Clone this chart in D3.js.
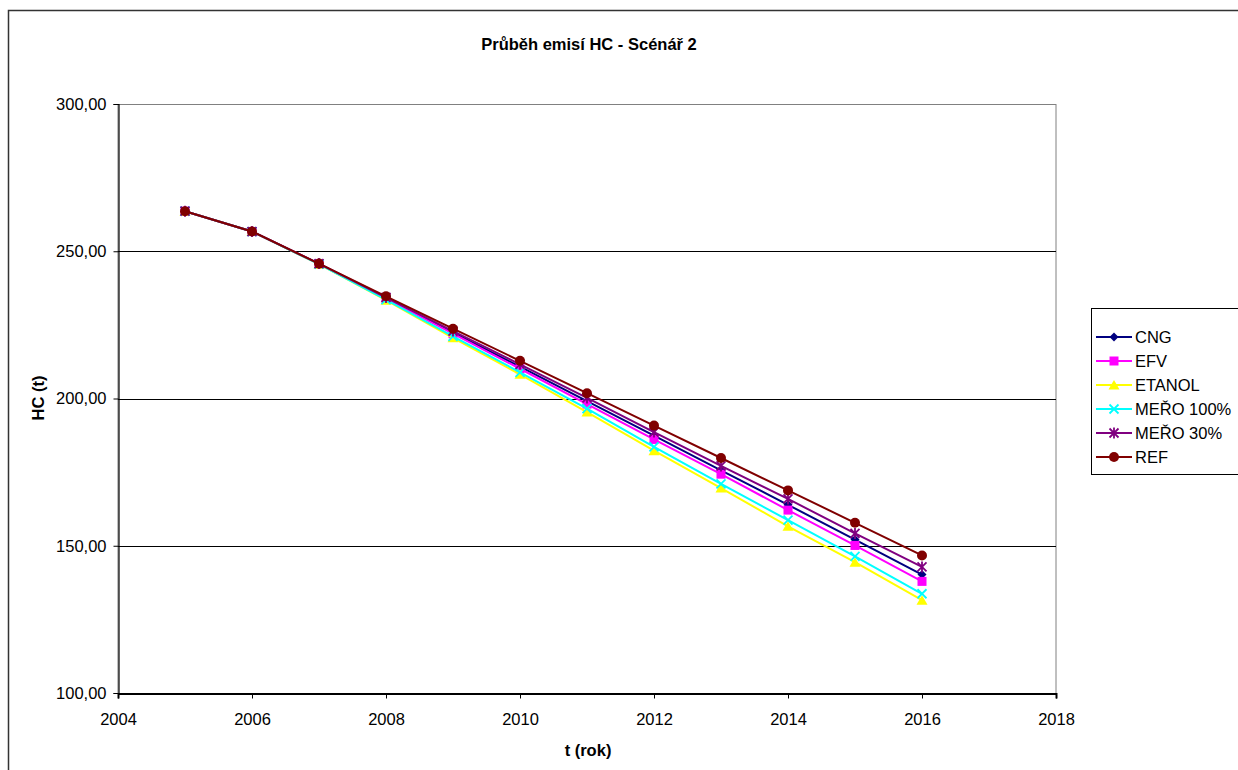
<!DOCTYPE html>
<html>
<head>
<meta charset="utf-8">
<script src="https://cdn.jsdelivr.net/npm/d3@7"></script>
<style>
  html, body { margin: 0; padding: 0; background: #fff; }
  svg { display: block; font-family: "Liberation Sans", Arial, sans-serif; }
</style>
</head>
<body>
<svg id="chart" width="1238" height="770"></svg>
<script>
// Years and HC emissions (t) per scenario
const years = [2005, 2006, 2007, 2008, 2009, 2010, 2011, 2012, 2013, 2014, 2015, 2016];
const cng     = [263.6, 256.7, 245.7, 234.1, 222.4, 210.8, 199.1, 187.4, 175.6, 163.9, 152.1, 140.2];
const efv     = [263.6, 256.7, 245.7, 233.9, 222.0, 210.1, 198.1, 186.1, 174.3, 162.1, 150.1, 137.9];
const etanol  = [263.6, 256.7, 245.6, 233.4, 220.6, 208.2, 195.4, 182.3, 169.6, 156.6, 144.4, 131.5];
const mero100 = [263.6, 256.7, 245.6, 233.6, 221.1, 208.9, 196.6, 183.6, 171.0, 158.7, 146.4, 133.7];
const mero30  = [263.6, 256.7, 245.8, 234.3, 222.9, 211.6, 200.2, 188.6, 177.1, 165.9, 154.2, 142.8];
const ref     = [263.6, 256.7, 245.8, 234.7, 223.7, 212.8, 201.8, 190.8, 179.8, 168.8, 157.8, 146.7];

const seriesNames = ["CNG", "EFV", "ETANOL", "MEŘO 100%", "MEŘO 30%", "REF"];
const seriesValues = [cng, efv, etanol, mero100, mero30, ref];
const seriesColors = ["#000080", "#FF00FF", "#FFFF00", "#00FFFF", "#800080", "#800000"];
const seriesMarkers = ["diamond", "square", "triangle", "x", "star", "circle"];

const xTicks = [2004, 2006, 2008, 2010, 2012, 2014, 2016, 2018];
const yTicks = [100, 150, 200, 250, 300];

const FONT = "16.5px";

const svg = d3.select("#chart");
const plot = { left: 118, top: 104, right: 1056, bottom: 693 };

const x = d3.scaleLinear().domain([2004, 2018]).range([plot.left, plot.right]);
const y = d3.scaleLinear().domain([100, 300]).range([plot.bottom, plot.top]);

// outer chart frame
svg.append("rect")
  .attr("x", 8.5).attr("y", 10.5).attr("width", 1300).attr("height", 900)
  .attr("fill", "#fff").attr("stroke", "#333").attr("stroke-width", 1.5);

// plot area frame
svg.append("rect")
  .attr("x", plot.left).attr("y", plot.top + 0.5)
  .attr("width", plot.right - plot.left).attr("height", plot.bottom - plot.top)
  .attr("fill", "#fff").attr("stroke", "#808080").attr("stroke-width", 1);

// horizontal gridlines
svg.append("g").selectAll("line")
  .data(yTicks.filter(d => d > 100 && d < 300))
  .join("line")
  .attr("x1", plot.left).attr("x2", plot.right)
  .attr("y1", d => Math.round(y(d)) + 0.5).attr("y2", d => Math.round(y(d)) + 0.5)
  .attr("stroke", "#000").attr("stroke-width", 1);

// axes
const fmt = d => d3.format(".2f")(d).replace(".", ",");
const yAxis = svg.append("g")
  .attr("transform", `translate(${plot.left + 0.5},0)`)
  .call(d3.axisLeft(y).tickValues(yTicks).tickFormat(fmt).tickSize(5).tickPadding(7));
const xAxis = svg.append("g")
  .attr("transform", `translate(0,${plot.bottom + 0.5})`)
  .call(d3.axisBottom(x).tickValues(xTicks).tickFormat(d3.format("d")).tickSize(5).tickPadding(15));
[yAxis, xAxis].forEach(g => {
  g.select(".domain").attr("stroke", "#000").attr("stroke-width", 1.2);
  g.selectAll(".tick line").attr("stroke", "#000");
  g.selectAll(".tick text").attr("fill", "#000")
    .style("font-family", "'Liberation Sans', Arial, sans-serif").style("font-size", FONT);
});
xAxis.select(".domain").attr("stroke-width", 2);

// titles
svg.append("text").attr("x", 589).attr("y", 50).attr("text-anchor", "middle")
  .style("font-weight", "bold").style("font-size", FONT).text("Průběh emisí HC - Scénář 2");
svg.append("text").attr("x", 588).attr("y", 756).attr("text-anchor", "middle")
  .style("font-weight", "bold").style("font-size", FONT).text("t (rok)");
svg.append("text").attr("transform", "translate(44,398) rotate(-90)").attr("text-anchor", "middle")
  .style("font-weight", "bold").style("font-size", FONT).text("HC (t)");

// marker drawing
function drawMarker(g, type, color) {
  const s = 4.5;
  if (type === "diamond") {
    g.append("path").attr("d", `M0,${-s}L${s},0L0,${s}L${-s},0Z`).attr("fill", color);
  } else if (type === "square") {
    g.append("rect").attr("x", -4.5).attr("y", -4.5).attr("width", 9).attr("height", 9).attr("fill", color);
  } else if (type === "triangle") {
    g.append("path").attr("d", `M0,-5L5.5,4.5L-5.5,4.5Z`).attr("fill", color);
  } else if (type === "x") {
    g.append("path").attr("d", `M-4.5,-4.5L4.5,4.5M4.5,-4.5L-4.5,4.5`)
      .attr("stroke", color).attr("stroke-width", 1.8).attr("fill", "none");
  } else if (type === "star") {
    g.append("path").attr("d", `M-4.5,-4.5L4.5,4.5M4.5,-4.5L-4.5,4.5M0,-5.5L0,5.5`)
      .attr("stroke", color).attr("stroke-width", 1.8).attr("fill", "none");
  } else if (type === "circle") {
    g.append("circle").attr("r", 5).attr("fill", color);
  }
}

// series lines and markers
const line = d3.line().x(d => x(d[0])).y(d => y(d[1]));
seriesValues.forEach((vals, i) => {
  const pts = years.map((yr, j) => [yr, vals[j]]);
  const g = svg.append("g");
  g.append("path").datum(pts).attr("d", line)
    .attr("fill", "none").attr("stroke", seriesColors[i]).attr("stroke-width", 2);
  g.selectAll("g").data(pts).join("g")
    .attr("transform", d => `translate(${x(d[0])},${y(d[1])})`)
    .each(function() { drawMarker(d3.select(this), seriesMarkers[i], seriesColors[i]); });
});

// legend
const legend = svg.append("g");
legend.append("rect").attr("x", 1091.5).attr("y", 308.5).attr("width", 200).attr("height", 166)
  .attr("fill", "#fff").attr("stroke", "#000").attr("stroke-width", 1);
seriesNames.forEach((name, i) => {
  const cy = 337 + i * 24;
  const row = legend.append("g");
  row.append("line").attr("x1", 1096).attr("x2", 1132).attr("y1", cy).attr("y2", cy)
    .attr("stroke", seriesColors[i]).attr("stroke-width", 2);
  drawMarker(row.append("g").attr("transform", `translate(1114,${cy})`), seriesMarkers[i], seriesColors[i]);
  row.append("text").attr("x", 1135).attr("y", cy + 6).style("font-size", FONT).text(name);
});
</script>
</body>
</html>
